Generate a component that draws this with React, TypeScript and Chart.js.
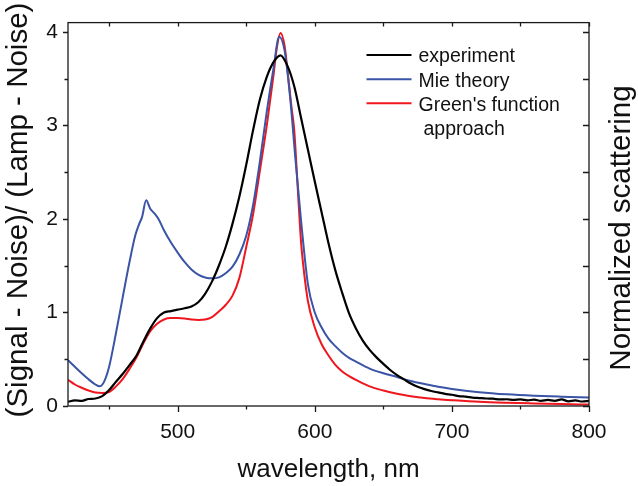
import React, { useEffect, useRef } from "react";
import { Chart, registerables } from "chart.js";

Chart.register(...registerables);

// ---------- data ----------
const expWavelength = [
  420, 425, 430, 435, 440, 445, 450, 455, 460, 465, 470, 475, 480, 485, 490, 495,
  500, 505, 510, 515, 520, 525, 530, 535, 540, 545, 550, 555, 560, 565, 570, 575,
  580, 585, 590, 595, 600, 605, 610, 615, 620, 625, 630, 635, 640, 645, 650, 655,
  660, 665, 670, 675, 680, 685, 690, 695, 700, 705, 710, 715, 720, 725, 730, 735,
  740, 745, 750, 755, 760, 765, 770, 775, 780, 785, 790, 795, 800,
];
const expSignal = [
  0.045, 0.06, 0.055, 0.075, 0.08, 0.105, 0.17, 0.26, 0.345, 0.44, 0.54, 0.69, 0.83, 0.94, 1.0, 1.015,
  1.03, 1.045, 1.065, 1.11, 1.2, 1.33, 1.5, 1.7, 1.95, 2.24, 2.58, 2.95, 3.28, 3.52, 3.68, 3.75,
  3.64, 3.42, 3.08, 2.74, 2.4, 2.07, 1.74, 1.45, 1.21, 0.99, 0.83, 0.7, 0.6, 0.52, 0.45, 0.385,
  0.33, 0.285, 0.24, 0.205, 0.18, 0.16, 0.145, 0.13, 0.12, 0.105, 0.1, 0.09, 0.085, 0.08, 0.078, 0.07,
  0.072, 0.065, 0.07, 0.06, 0.068, 0.055, 0.065, 0.055, 0.07, 0.05, 0.06, 0.048, 0.055,
];

const mieWavelength = [
  420, 425, 430, 435, 440, 443, 446, 450, 455, 460, 465, 469, 472, 474, 477, 480,
  483, 486, 490, 495, 500, 505, 510, 515, 520, 525, 530, 535, 540, 545, 550, 555,
  560, 565, 570, 574, 578, 582, 586, 590, 595, 600, 605, 610, 615, 620, 625, 630,
  640, 650, 660, 670, 680, 690, 700, 720, 740, 760, 780, 800,
];
const mieSignal = [
  0.49, 0.42, 0.35, 0.285, 0.23, 0.21, 0.25, 0.42, 0.78, 1.17, 1.55, 1.82, 1.95, 2.02, 2.2, 2.11,
  2.06, 2.0, 1.88, 1.75, 1.64, 1.54, 1.46, 1.405, 1.375, 1.365, 1.375, 1.42, 1.49, 1.62, 1.82, 2.15,
  2.62, 3.15, 3.62, 3.95, 3.8, 3.3, 2.62, 1.98, 1.3, 1.0, 0.84, 0.72, 0.64, 0.57, 0.515, 0.475,
  0.4, 0.35, 0.31, 0.268, 0.235, 0.205, 0.182, 0.148, 0.125, 0.11, 0.1, 0.092,
];

const greenWavelength = [
  420, 425, 430, 435, 440, 445, 450, 455, 460, 465, 470, 475, 480, 485, 490, 495,
  500, 505, 510, 515, 520, 525, 530, 535, 540, 545, 550, 555, 560, 565, 570, 572,
  575, 578, 580, 583, 585, 588, 590, 592, 595, 600, 605, 610, 615, 620, 625, 630,
  640, 650, 660, 670, 680, 690, 700, 720, 740, 760, 780, 800,
];
const greenSignal = [
  0.28, 0.23, 0.195, 0.165, 0.145, 0.14, 0.15, 0.21, 0.29, 0.4, 0.52, 0.67, 0.8, 0.88, 0.925, 0.94,
  0.94, 0.935, 0.925, 0.92, 0.925, 0.95, 1.01, 1.08, 1.18, 1.37, 1.7, 2.05, 2.52, 3.0, 3.55, 3.8,
  3.99, 3.85, 3.6, 3.2, 2.95, 2.22, 1.75, 1.45, 1.12, 0.84, 0.66, 0.54, 0.44, 0.37, 0.32, 0.28,
  0.21, 0.165, 0.13, 0.105, 0.085, 0.072, 0.062, 0.045, 0.035, 0.028, 0.022, 0.015,
];

const seriesNames = ["experiment", "Mie theory", "Green's function", "approach"];
const xLabelValues = [500, 600, 700, 800];
const xTickValues = [450, 500, 550, 600, 650, 700, 750, 800];
const yLabelValues = [0, 1, 2, 3, 4];
const yTickValues = [0, 0.5, 1, 1.5, 2, 2.5, 3, 3.5, 4];
const xTitle = "wavelength, nm";
const yTitle = "(Signal - Noise)/ (Lamp - Noise)";
const y2Title = "Normalized scattering";

const BLACK = "#000000";
const BLUE = "#3a54a6";
const RED = "#f0161e";
const FONT = "'Liberation Sans', Arial, sans-serif";

const toPoints = (xs: number[], ys: number[]) => xs.map((x, i) => ({ x, y: ys[i] }));

const decorPlugin = {
  id: "decor",
  afterDraw(chart: any) {
    const { ctx, chartArea: a, scales } = chart;
    const xs = scales.x;
    const ys = scales.y;
    ctx.save();
    ctx.strokeStyle = "#1a1a1a";
    ctx.lineWidth = 1.3;
    ctx.strokeRect(a.left, a.top, a.right - a.left, a.bottom - a.top);

    ctx.beginPath();
    for (const v of xTickValues) {
      const px = Math.round(xs.getPixelForValue(v)) + 0.5;
      const major = v % 100 === 0;
      ctx.moveTo(px, a.bottom);
      ctx.lineTo(px, a.bottom + (major ? 6 : 3.5));
      ctx.moveTo(px, a.top);
      ctx.lineTo(px, a.top + 4);
    }
    for (const v of yTickValues) {
      const py = Math.round(ys.getPixelForValue(v)) + 0.5;
      const major = v % 1 === 0;
      ctx.moveTo(a.left, py);
      ctx.lineTo(a.left - (major ? 5 : 3.5), py);
      ctx.moveTo(a.right, py);
      ctx.lineTo(a.right - 6, py);
    }
    ctx.stroke();

    // axis titles
    ctx.fillStyle = "#111";
    ctx.textBaseline = "alphabetic";
    ctx.textAlign = "center";
    ctx.font = `26px ${FONT}`;
    ctx.fillText(xTitle, (a.left + a.right) / 2, 477);

    ctx.font = `29.5px ${FONT}`;
    ctx.save();
    ctx.translate(27, 210);
    ctx.rotate(-Math.PI / 2);
    ctx.fillText(yTitle, 0, 0);
    ctx.restore();

    ctx.save();
    ctx.translate(630, 228);
    ctx.rotate(-Math.PI / 2);
    ctx.fillText(y2Title, 0, 0);
    ctx.restore();

    // legend
    const colors = [BLACK, BLUE, RED];
    const lineY = [55, 79.3, 103.3];
    ctx.lineWidth = 2;
    for (let i = 0; i < 3; i++) {
      ctx.strokeStyle = colors[i];
      ctx.beginPath();
      ctx.moveTo(366.5, lineY[i]);
      ctx.lineTo(411.5, lineY[i]);
      ctx.stroke();
    }
    ctx.font = `19.5px ${FONT}`;
    ctx.textAlign = "left";
    ctx.fillStyle = "#111";
    ctx.fillText(seriesNames[0], 418.5, 61.8);
    ctx.fillText(seriesNames[1], 418.5, 86.5);
    ctx.fillText(seriesNames[2], 418.5, 111.2);
    ctx.fillText(seriesNames[3], 423.5, 135.2);
    ctx.restore();
  },
};

export default function App() {
  const ref = useRef<HTMLCanvasElement | null>(null);

  useEffect(() => {
    if (!ref.current) return;
    const common = {
      borderWidth: 2,
      pointRadius: 0,
      fill: false,
      cubicInterpolationMode: "monotone" as const,
    };
    const chart = new Chart(ref.current, {
      type: "line",
      data: {
        datasets: [
          { ...common, label: seriesNames[0], data: toPoints(expWavelength, expSignal), borderColor: BLACK, borderWidth: 2.2 },
          { ...common, label: seriesNames[1], data: toPoints(mieWavelength, mieSignal), borderColor: BLUE },
          { ...common, label: seriesNames[2], data: toPoints(greenWavelength, greenSignal), borderColor: RED },
        ],
      },
      options: {
        animation: false,
        responsive: false,
        maintainAspectRatio: false,
        devicePixelRatio: 1,
        layout: { padding: { top: 20, right: 49, left: 0, bottom: 0 } },
        plugins: { legend: { display: false }, tooltip: { enabled: false } },
        scales: {
          x: {
            type: "linear",
            min: 420,
            max: 800,
            grid: { display: false, drawTicks: false },
            border: { display: false },
            afterBuildTicks: (s: any) => {
              s.ticks = xLabelValues.map((v) => ({ value: v }));
            },
            afterFit: (s: any) => {
              s.height = 80;
            },
            ticks: {
              padding: 14,
              maxRotation: 0,
              autoSkip: false,
              color: "#111",
              font: { family: FONT, size: 21 },
              callback: (v: any) => String(v),
            },
          },
          y: {
            type: "linear",
            min: 0,
            max: 4.1,
            grid: { display: false, drawTicks: false },
            border: { display: false },
            afterBuildTicks: (s: any) => {
              s.ticks = yLabelValues.map((v) => ({ value: v }));
            },
            afterFit: (s: any) => {
              s.width = 68;
            },
            ticks: {
              padding: 10,
              autoSkip: false,
              color: "#111",
              font: { family: FONT, size: 21 },
              callback: (v: any) => String(v),
            },
          },
        },
      },
      plugins: [decorPlugin],
    });
    return () => chart.destroy();
  }, []);

  return (
    <div style={{ position: "absolute", left: 0, top: 0, width: 638, height: 486, background: "#fff" }}>
      <canvas ref={ref} width={638} height={486} style={{ display: "block" }} />
    </div>
  );
}
